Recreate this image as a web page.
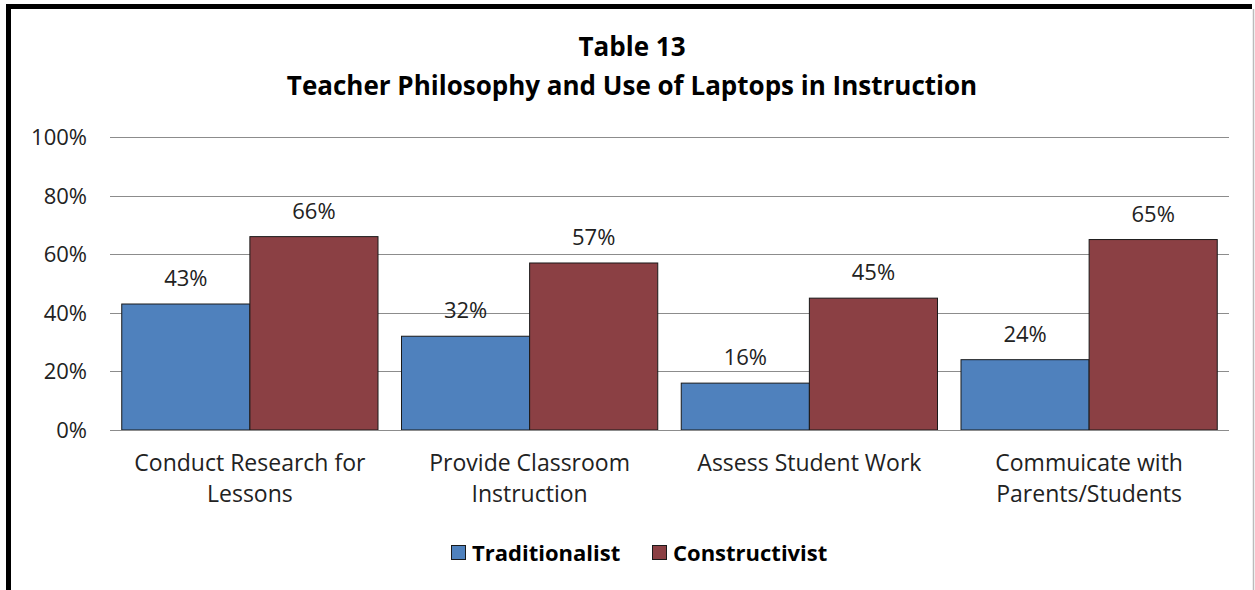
<!DOCTYPE html>
<html>
<head>
<meta charset="utf-8">
<script src="https://cdn.jsdelivr.net/npm/d3@7"></script>
<style>
  body { margin: 0; background: #fff; }
  svg { display: block; font-family: "Open Sans", "Noto Sans", sans-serif; }
</style>
</head>
<body>
<div id="chart"></div>
<script>
const categories = [
  ["Conduct Research for", "Lessons"],
  ["Provide Classroom", "Instruction"],
  ["Assess Student Work"],
  ["Commuicate with", "Parents/Students"],
];
const seriesNames = ["Traditionalist", "Constructivist"];
const traditionalist = [43, 32, 16, 24];
const constructivist = [66, 57, 45, 65];
const yTicks = [0, 20, 40, 60, 80, 100];
const colors = ["#4f81bd", "#8b4044"];

const width = 1255;
const height = 590;
const margin = { left: 110, right: 26, top: 137, bottom: 160 };

const svg = d3
  .select("#chart")
  .append("svg")
  .attr("width", width)
  .attr("height", height);

// frame
svg
  .append("line")
  .attr("x1", 8.5).attr("x2", 8.5).attr("y1", 4).attr("y2", height)
  .attr("stroke", "#000").attr("stroke-width", 5);
svg
  .append("line")
  .attr("x1", 6).attr("x2", 1252).attr("y1", 6.5).attr("y2", 6.5)
  .attr("stroke", "#000").attr("stroke-width", 5);
svg
  .append("line")
  .attr("x1", 1253.5).attr("x2", 1253.5).attr("y1", 9).attr("y2", height)
  .attr("stroke", "#bbb").attr("stroke-width", 1.5);

// title
svg
  .append("text")
  .attr("x", 632).attr("y", 56)
  .attr("text-anchor", "middle")
  .attr("font-size", 26).attr("font-weight", "bold")
  .text("Table 13");
svg
  .append("text")
  .attr("x", 632).attr("y", 95)
  .attr("text-anchor", "middle")
  .attr("font-size", 26).attr("font-weight", "bold")
  .text("Teacher Philosophy and Use of Laptops in Instruction");

const x = d3
  .scaleBand()
  .domain(d3.range(categories.length))
  .range([margin.left, width - margin.right])
  .paddingInner(0.084)
  .paddingOuter(0.042);

const x1 = d3
  .scaleBand()
  .domain([0, 1])
  .range([0, x.bandwidth()]);

const y = d3
  .scaleLinear()
  .domain([0, 100])
  .range([height - margin.bottom, margin.top]);

// gridlines
svg
  .append("g")
  .selectAll("line")
  .data(yTicks)
  .join("line")
  .attr("x1", margin.left)
  .attr("x2", width - margin.right)
  .attr("y1", (d) => Math.round(y(d)) + 0.5)
  .attr("y2", (d) => Math.round(y(d)) + 0.5)
  .attr("stroke", "#8c8c8c")
  .attr("stroke-width", 1);

svg
  .append("g")
  .selectAll("text")
  .data(yTicks)
  .join("text")
  .attr("x", 87)
  .attr("y", (d) => y(d) + 8)
  .attr("text-anchor", "end")
  .attr("font-size", 22)
  .attr("fill", "#222")
  .text((d) => `${d}%`);

const series = [traditionalist, constructivist];

series.forEach((vals, si) => {
  const g = svg.append("g");
  g.selectAll("rect")
    .data(vals)
    .join("rect")
    .attr("x", (d, i) => x(i) + x1(si))
    .attr("y", (d) => y(d))
    .attr("width", x1.bandwidth())
    .attr("height", (d) => y(0) - y(d))
    .attr("fill", colors[si])
    .attr("stroke", "#1a1a1a")
    .attr("stroke-width", 1);
  g.selectAll("text")
    .data(vals)
    .join("text")
    .attr("x", (d, i) => x(i) + x1(si) + x1.bandwidth() / 2)
    .attr("y", (d) => y(d) - 18)
    .attr("text-anchor", "middle")
    .attr("font-size", 22)
    .attr("fill", "#222")
    .text((d) => `${d}%`);
});

// baseline
svg
  .append("line")
  .attr("x1", margin.left)
  .attr("x2", width - margin.right)
  .attr("y1", Math.round(y(0)) + 0.5)
  .attr("y2", Math.round(y(0)) + 0.5)
  .attr("stroke", "#8c8c8c");

// category labels
svg
  .append("g")
  .selectAll("text")
  .data(categories)
  .join("text")
  .attr("x", (d, i) => x(i) + x.bandwidth() / 2)
  .attr("y", 471)
  .attr("text-anchor", "middle")
  .attr("font-size", 23)
  .attr("fill", "#222")
  .selectAll("tspan")
  .data((d) => d)
  .join("tspan")
  .attr("x", function () {
    return this.parentNode.getAttribute("x");
  })
  .attr("dy", (d, i) => (i === 0 ? 0 : 31))
  .text((d) => d);

// legend
const legend = svg.append("g");
const legendX = [451, 652];
seriesNames.forEach((name, i) => {
  legend
    .append("rect")
    .attr("x", legendX[i] + 0.5)
    .attr("y", 545.5)
    .attr("width", 14)
    .attr("height", 14)
    .attr("fill", colors[i])
    .attr("stroke", "#1a1a1a");
  legend
    .append("text")
    .attr("x", legendX[i] + 21)
    .attr("y", 561)
    .attr("font-size", 22)
    .attr("font-weight", "bold")
    .text(name);
});
</script>
</body>
</html>
